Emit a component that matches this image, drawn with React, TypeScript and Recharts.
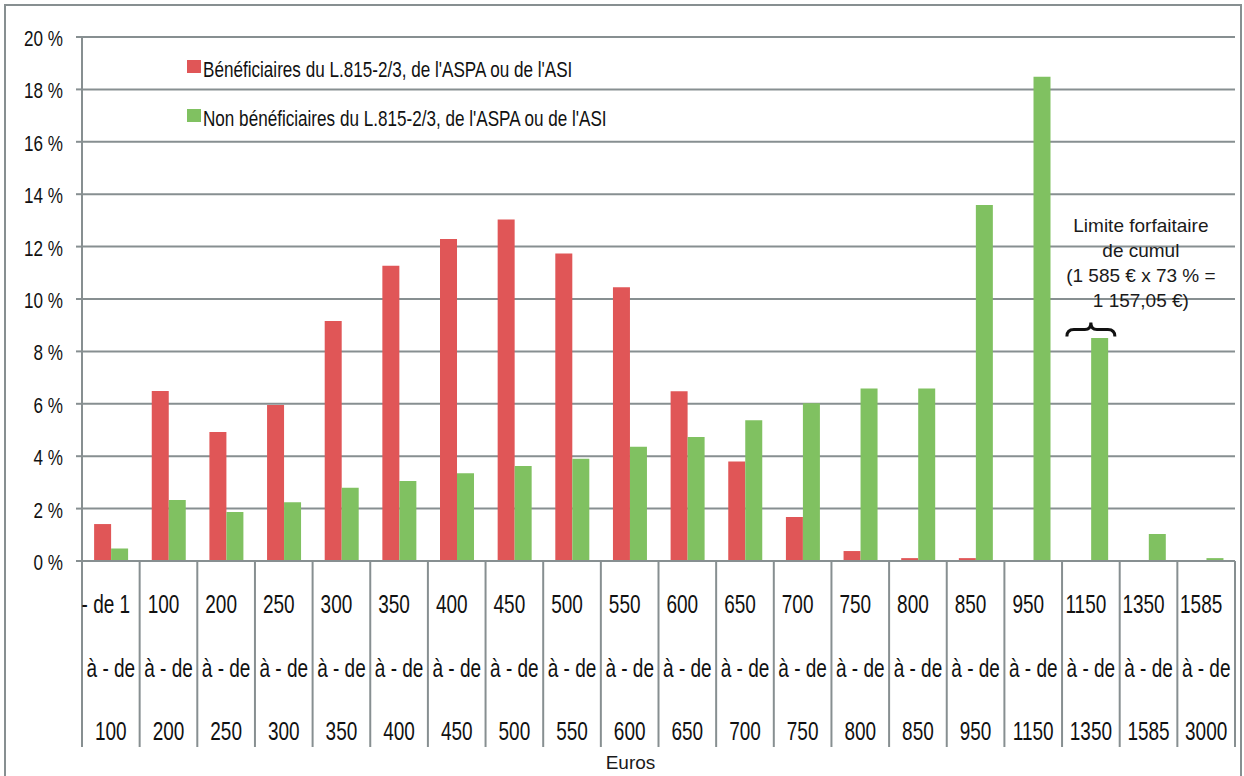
import { BarChart, Bar, XAxis, YAxis, CartesianGrid, Legend, ReferenceDot } from 'recharts'

// income brackets (euros), split the way the axis wraps them
const binFrom = ['- de 1', '100', '200', '250', '300', '350', '400', '450', '500', '550', '600', '650', '700', '750', '800', '850', '950', '1150', '1350', '1585']
const binTo = ['100', '200', '250', '300', '350', '400', '450', '500', '550', '600', '650', '700', '750', '800', '850', '950', '1150', '1350', '1585', '3000']

// share of each population, in %
const beneficiaires = [1.41, 6.49, 4.92, 5.95, 9.16, 11.27, 12.29, 13.03, 11.74, 10.45, 6.48, 3.8, 1.68, 0.38, 0.11, 0.11, 0.03, 0, 0, 0]
const nonBeneficiaires = [0.48, 2.33, 1.87, 2.24, 2.8, 3.05, 3.35, 3.63, 3.9, 4.36, 4.73, 5.37, 6.02, 6.58, 6.58, 13.59, 18.48, 8.51, 1.03, 0.11]

const yTicks = [0, 2, 4, 6, 8, 10, 12, 14, 16, 18, 20]
const seriesNames = [
  "Bénéficiaires du L.815-2/3, de l'ASPA ou de l'ASI",
  "Non bénéficiaires du L.815-2/3, de l'ASPA ou de l'ASI",
]
const annotationLines = ['Limite forfaitaire', 'de cumul', '(1 585 € x 73 % =', '1 157,05 €)']
const braceBin = 17
const braceLevel = 8.8

const data = binFrom.map((f, i) => ({
  bin: `${f} à - de ${binTo[i]}`,
  benef: beneficiaires[i],
  nonBenef: nonBeneficiaires[i],
}))

const W = 1244
const H = 776
const MARGIN = { top: 37, right: 9, bottom: 0, left: 0 }
const Y_W = 82
const X_H = 215
const STEP = (W - MARGIN.left - MARGIN.right - Y_W) / data.length

const RED = '#E05657'
const GREEN = '#80C161'
const GRID = '#878F91'
const ARIAL = "'Liberation Sans', Arial, sans-serif"
// no narrow font installed: squeeze Liberation Sans horizontally instead
const SQUEEZE = 0.76

function Narrow({ x, y, size, anchor, children, dy = 0 }: any) {
  return (
    <text
      transform={`translate(${x},${y}) scale(${SQUEEZE},1)`}
      dy={dy}
      textAnchor={anchor}
      style={{ fontFamily: ARIAL, fontSize: size, fill: '#111' }}
    >
      {children}
    </text>
  )
}

function PctTick(props: any) {
  const { x, y, payload } = props
  return <Narrow x={x} y={y + 1} size={22.5} anchor="end" dy="0.355em">{`${payload.value} %`}</Narrow>
}

function BinTick(props: any) {
  const { x, y, index } = props
  const half = STEP / 2
  return (
    <g>
      <line x1={x - half} x2={x - half} y1={y} y2={y + 186} stroke={GRID} strokeWidth={2} />
      {index === data.length - 1 && (
        <line x1={x + half} x2={x + half} y1={y} y2={y + 186} stroke={GRID} strokeWidth={2} />
      )}
      <Narrow x={x - 5} y={y + 52} size={25} anchor="middle">{binFrom[index]}</Narrow>
      <Narrow x={x} y={y + 116} size={25} anchor="middle">à - de</Narrow>
      <Narrow x={x} y={y + 179} size={25} anchor="middle">{binTo[index]}</Narrow>
    </g>
  )
}

function LegendBox() {
  const colors = [RED, GREEN]
  return (
    <div style={{ fontFamily: ARIAL, fontSize: 22.5, color: '#111' }}>
      {seriesNames.map((name, i) => (
        <div key={name} style={{ position: 'relative', height: 26, marginBottom: i === 0 ? 23 : 0, width: 460 }}>
          <span style={{ position: 'absolute', left: 0, top: 0, width: 14, height: 13, background: colors[i] }} />
          <span
            style={{
              position: 'absolute', left: 16, top: -3, lineHeight: '26px', whiteSpace: 'nowrap',
              transform: `scaleX(${SQUEEZE})`, transformOrigin: 'left center',
            }}
          >
            {name}
          </span>
        </div>
      ))}
    </div>
  )
}

function Brace(props: any) {
  const { cx, cy } = props
  const hw = 24
  const y0 = cy + 6
  const y1 = cy - 1
  const yt = cy - 8
  const d = `M ${cx - hw} ${y0} Q ${cx - hw} ${y1} ${cx - hw + 7} ${y1} L ${cx - 6} ${y1} Q ${cx} ${y1} ${cx} ${yt} Q ${cx} ${y1} ${cx + 6} ${y1} L ${cx + hw - 7} ${y1} Q ${cx + hw} ${y1} ${cx + hw} ${y0}`
  return (
    <g>
      <path d={d} fill="none" stroke="#111" strokeWidth={3} />
      {annotationLines.map((l, i) => (
        <text key={l} x={cx + 50} y={cy - 98 + i * 25} textAnchor="middle"
          style={{ fontFamily: ARIAL, fontSize: 19, fill: '#1a1a1a' }}>{l}</text>
      ))}
    </g>
  )
}

export default function App() {
  return (
    <div style={{ position: 'absolute', left: 0, top: 0, width: W, height: H, background: '#fff', overflow: 'hidden' }}>
      <div style={{ position: 'absolute', left: 4, top: 4, width: 1234, height: 800, border: `2px solid ${GRID}` }} />
      <BarChart width={W} height={H} data={data} margin={MARGIN} barCategoryGap="21%" barGap={0}>
        <CartesianGrid vertical={false} stroke={GRID} strokeWidth={2} />
        <YAxis
          width={Y_W}
          domain={[0, 20]}
          ticks={yTicks}
          interval={0}
          axisLine={{ stroke: GRID, strokeWidth: 2 }}
          tickLine={{ stroke: GRID, strokeWidth: 2 }}
          tickSize={6}
          tickMargin={13}
          tick={<PctTick />}
        />
        <XAxis
          dataKey="bin"
          height={X_H}
          interval={0}
          tickLine={false}
          tickSize={0}
          tickMargin={0}
          axisLine={{ stroke: GRID, strokeWidth: 2 }}
          tick={<BinTick />}
          label={{ value: 'Euros', position: 'insideBottom', offset: 7, dx: -28, style: { fontFamily: ARIAL, fontSize: 19, fill: '#1a1a1a' } }}
        />
        <Legend
          layout="horizontal"
          verticalAlign="middle"
          align="center"
          content={<LegendBox />}
          wrapperStyle={{ left: 187, top: 60, width: 460, height: 80 }}
        />
        <Bar dataKey="benef" name={seriesNames[0]} fill={RED} isAnimationActive={false} />
        <Bar dataKey="nonBenef" name={seriesNames[1]} fill={GREEN} isAnimationActive={false} />
        <ReferenceDot x={data[braceBin].bin} y={braceLevel} r={0} shape={(p: any) => <Brace {...p} />} />
      </BarChart>
    </div>
  )
}
